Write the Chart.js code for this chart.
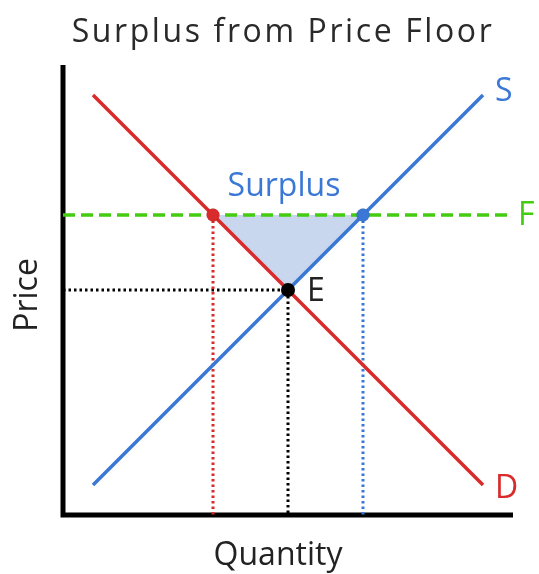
<!DOCTYPE html>
<html>
<head>
<meta charset="utf-8">
<script src="https://cdn.jsdelivr.net/npm/chart.js@4.4.0/dist/chart.umd.min.js"></script>
<style>
  html, body { margin: 0; padding: 0; background: #fff; }
  #wrap { width: 539px; height: 574px; position: relative; }
</style>
</head>
<body>
<div id="wrap"><canvas id="chart"></canvas></div>
<script>
// curve data (quantity on x, price on y)
const demandX = [1, 14];
const demandY = [14, 1];
const supplyX = [1, 14];
const supplyY = [1, 14];
const floorX = [0, 14.9];
const floorY = [10, 10];
const equilibrium = [7.5, 7.5];
const floorDemandPt = [5, 10];
const floorSupplyPt = [10, 10];
const axisMax = 15;

const RED = "#d92b2b";
const BLUE = "#3b78d6";
const GREEN = "#44cc11";
const INK = "#222";

const pts = (xs, ys) => xs.map((x, i) => ({ x: x, y: ys[i] }));
const FONT = "'Open Sans', sans-serif";

// labels drawn on the canvas
const labelsPlugin = {
    id: "labels",
    afterDatasetsDraw(chart) {
        const { ctx, scales } = chart;
        const px = v => scales.x.getPixelForValue(v);
        const py = v => scales.y.getPixelForValue(v);
        ctx.save();
        ctx.textBaseline = "middle";
        ctx.font = "32px " + FONT;

        ctx.fillStyle = BLUE;
        ctx.textAlign = "left";
        ctx.fillText("S", px(supplyX[1]) + 12, py(supplyY[1]) - 3);

        ctx.fillStyle = RED;
        ctx.fillText("D", px(demandX[1]) + 12, py(demandY[1]) + 4);

        ctx.fillStyle = GREEN;
        ctx.fillText("F", px(floorX[1]) + 8, py(floorY[1]) + 1);

        ctx.fillStyle = INK;
        ctx.fillText("E", px(equilibrium[0]) + 19, py(equilibrium[1]) + 2);

        ctx.fillStyle = BLUE;
        ctx.textAlign = "center";
        ctx.fillText("Surplus", px(equilibrium[0]) - 4, py(floorY[0]) - 28);

        ctx.fillStyle = INK;
        ctx.textBaseline = "alphabetic";
        ctx.fillText("Quantity", px(axisMax / 2) - 10, 565);

        ctx.save();
        ctx.translate(37, py(axisMax / 2) + 5);
        ctx.rotate(-Math.PI / 2);
        ctx.fillText("Price", 0, 0);
        ctx.restore();

        ctx.fillStyle = "#2a2a2a";
        ctx.letterSpacing = "2.6px";
        ctx.fillText("Surplus from Price Floor", 283, 42);
        ctx.restore();
    }
};

new Chart(document.getElementById("chart"), {
    type: "scatter",
    data: {
        datasets: [
            { data: [{ x: equilibrium[0], y: equilibrium[1] }], backgroundColor: "#000", pointRadius: 7, pointHoverRadius: 7 },
            { data: [{ x: floorDemandPt[0], y: floorDemandPt[1] }], backgroundColor: RED, pointRadius: 6.5, pointHoverRadius: 6.5 },
            { data: [{ x: floorSupplyPt[0], y: floorSupplyPt[1] }], backgroundColor: BLUE, pointRadius: 6.5, pointHoverRadius: 6.5 },
            { data: pts(demandX, demandY), showLine: true, borderColor: RED, borderWidth: 3.5, pointRadius: 0 },
            { data: pts(supplyX, supplyY), showLine: true, borderColor: BLUE, borderWidth: 3.5, pointRadius: 0 },
            { data: pts(floorX, floorY), showLine: true, borderColor: GREEN, borderWidth: 3.5, borderDash: [12, 6], pointRadius: 0, clip: false },
            // guide lines down to the axes
            { data: [{ x: floorDemandPt[0], y: floorDemandPt[1] }, { x: floorDemandPt[0], y: 0 }], showLine: true, borderColor: RED, borderWidth: 3, borderDash: [2.5, 3], pointRadius: 0 },
            { data: [{ x: floorSupplyPt[0], y: floorSupplyPt[1] }, { x: floorSupplyPt[0], y: 0 }], showLine: true, borderColor: BLUE, borderWidth: 3, borderDash: [2.5, 3], pointRadius: 0 },
            { data: [{ x: 0, y: equilibrium[1] }, { x: equilibrium[0], y: equilibrium[1] }, { x: equilibrium[0], y: 0 }], showLine: true, borderColor: "#000", borderWidth: 3, borderDash: [2.5, 3], pointRadius: 0 },
            // surplus triangle
            { data: [{ x: floorDemandPt[0], y: floorDemandPt[1] }, { x: equilibrium[0], y: equilibrium[1] }, { x: floorSupplyPt[0], y: floorSupplyPt[1] }], showLine: true, borderWidth: 0, pointRadius: 0, fill: { value: floorY[0] }, backgroundColor: "#c8d6ee" },
            // axes
            { data: [{ x: 0, y: axisMax }, { x: 0, y: 0 }, { x: axisMax, y: 0 }], showLine: true, borderColor: "#000", borderWidth: 5, borderJoinStyle: "miter", pointRadius: 0, clip: false }
        ]
    },
    options: {
        responsive: true,
        maintainAspectRatio: false,
        animation: false,
        layout: { padding: { left: 63, top: 65, right: 26, bottom: 59 } },
        scales: {
            x: { type: "linear", min: 0, max: axisMax, display: false },
            y: { type: "linear", min: 0, max: axisMax, display: false }
        },
        plugins: {
            legend: { display: false },
            tooltip: { enabled: false }
        }
    },
    plugins: [labelsPlugin]
});
</script>
</body>
</html>
